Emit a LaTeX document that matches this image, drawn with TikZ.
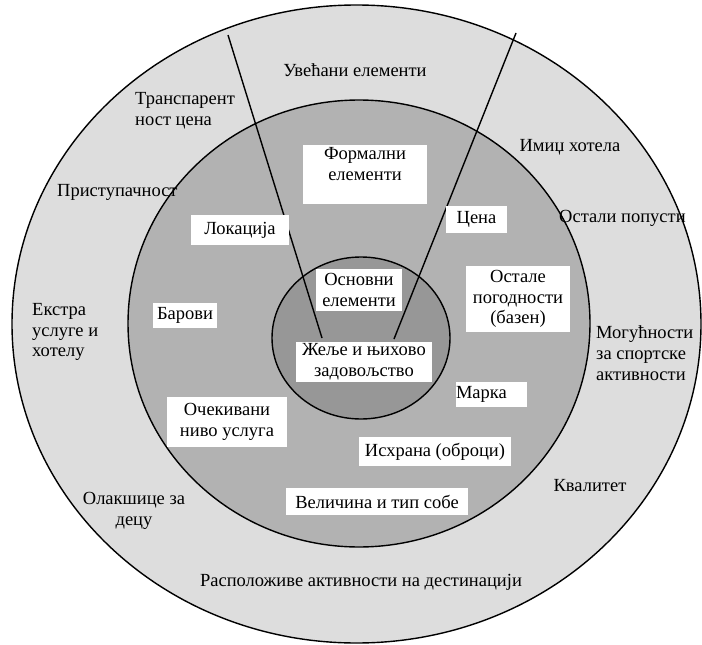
\documentclass[tikz,border=0pt]{standalone}
\usepackage{fontspec}
\setmainfont{Liberation Serif}
\definecolor{ringA}{RGB}{221,221,221}
\definecolor{ringB}{RGB}{178,178,178}
\definecolor{ringC}{RGB}{151,151,151}
\begin{document}
\begin{tikzpicture}[x=1pt,y=-1pt,
  font=\fontsize{18.5}{20.8}\selectfont,
  ring/.style={draw=black, line width=1.4pt},
  divider/.style={draw=black, line width=1.4pt},
  txt/.style={inner sep=0pt, align=center},
  box/.style={fill=white, inner sep=1pt, align=center}]
\useasboundingbox (0,0) rectangle (702,645);
% rings
\draw[ring, fill=ringA] (356.5,324) ellipse [x radius=344.5pt, y radius=319pt];
\draw[ring, fill=ringB] (359,323.5) ellipse [x radius=231pt, y radius=223.5pt];
\draw[ring, fill=ringC] (361,338) ellipse [x radius=89pt, y radius=81pt];
% dividers
\coordinate (d1a) at (228,35);
\coordinate (d1b) at (322,338);
\coordinate (d2a) at (516,33);
\coordinate (d2b) at (394,339);
\draw[divider] (d1a) -- (d1b);
\draw[divider] (d2a) -- (d2b);
% outer ring texts
\node[txt] (uv) at (355,70) {Увећани елементи};
\node[txt, align=left, anchor=west] (tr) at (135,111) {Транспарент\\ност цена};
\node[txt, anchor=west] (pr) at (57,192) {Приступачност};
\node[txt, align=left, anchor=west] (ek) at (32,332) {Екстра\\услуге и\\хотелу};
\node[txt] (ol) at (134,511) {Олакшице за\\децу};
\node[txt] (ra) at (361,582) {Расположиве активности на дестинацији};
\node[txt] (kv) at (590,486) {Квалитет};
\node[txt, align=left, anchor=west] (mo) at (596,353) {Могућности\\за спортске\\активности};
\node[txt, anchor=west] (op) at (559,218) {Остали попусти};
\node[txt] (im) at (570,147) {Имиџ хотела};
% boxes
\node[box, minimum width=124pt, minimum height=59pt] (fo) at (365,174.5) {Формални\\елементи\\\mbox{}};
\node[box, minimum width=98pt, minimum height=30pt] (lo) at (240,230) {Локација};
\node[box, minimum width=61pt, minimum height=27pt] (ce) at (476.5,219.5) {Цена};
\node[box, minimum width=104pt, minimum height=66pt] (os) at (518,299) {Остале\\погодности\\(базен)};
\node[box, minimum width=86pt, minimum height=42pt] (osn) at (359,290) {Основни\\елементи};
\node[box, minimum width=136pt, minimum height=40pt] (ze) at (364,362) {Жеље и њихово\\задовољство};
\node[box, minimum width=64pt, minimum height=25pt] (ba) at (185,315.5) {Барови};
\node[box, minimum width=120pt, minimum height=50pt] (oc) at (227,422) {Очекивани\\ниво услуга};
\node[box, minimum width=182pt, minimum height=27pt] (ve) at (377,501.5) {Величина и тип собе};
\node[box, minimum width=152pt, minimum height=29pt] (is) at (435,451.5) {Исхрана (оброци)};
\node[box, text width=71pt, minimum height=25pt, align=left, inner xsep=0pt] (ma) at (491.5,394.5) {Марка};
\end{tikzpicture}
\end{document}
